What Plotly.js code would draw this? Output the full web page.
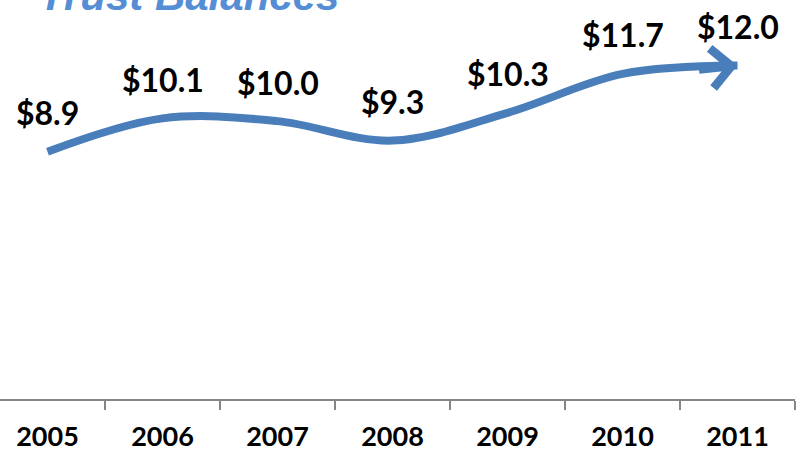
<!DOCTYPE html>
<html>
<head>
<meta charset="utf-8">
<script src="https://cdn.plot.ly/plotly-3.0.1.min.js"></script>
<style>
  html, body { margin: 0; padding: 0; background: #fff; }
  #chart { width: 800px; height: 454px; }
</style>
</head>
<body>
<div id="chart"></div>
<script>
// trust balances, in billions
var years = ['2005', '2006', '2007', '2008', '2009', '2010', '2011'];
var balances = [8.9, 10.1, 10.0, 9.3, 10.3, 11.7, 12.0];
var balanceLabels = ['$8.9', '$10.1', '$10.0', '$9.3', '$10.3', '$11.7', '$12.0'];

var lineColor = '#4a7ebb';
var tickFont = {family: 'Lato, "Open Sans", sans-serif', size: 27, color: '#000', weight: 'bold'};
var labelFont = {family: 'Lato, "Open Sans", sans-serif', size: 32, color: '#000', weight: 'bold'};

var trace = {
    x: years,
    y: balances,
    type: 'scatter',
    mode: 'lines',
    line: {color: lineColor, width: 8, shape: 'spline', smoothing: 1},
    hoverinfo: 'skip'
};

// value labels above each point (category axis -> use the index)
var annotations = years.map(function (yr, i) {
    return {
        x: i, y: balances[i], xref: 'x', yref: 'y',
        text: balanceLabels[i], showarrow: false,
        yanchor: 'middle', yshift: 39,
        font: labelFont
    };
});

// arrow head at the end of the line
var last = years.length - 1;
annotations.push({
    x: last, y: balances[last],
    xref: 'x', yref: 'y', text: '',
    showarrow: true, arrowhead: 4, arrowsize: 0.9, arrowwidth: 8.5,
    arrowcolor: lineColor, ax: -40, ay: 4
});

// title, partly cut off at the top like the source
annotations.push({
    xref: 'paper', yref: 'paper', x: 0.046, y: 0.972,
    xanchor: 'left', yanchor: 'bottom',
    text: '<i><b>Trust Balances</b></i>', showarrow: false,
    font: {family: '"Liberation Sans", Arial, sans-serif', size: 42, color: '#558ed5'}
});

var layout = {
    width: 800,
    height: 454,
    margin: {l: 0, r: 5, t: 10, b: 55},
    paper_bgcolor: '#fff',
    plot_bgcolor: '#fff',
    showlegend: false,
    xaxis: {
        type: 'category',
        range: [-0.413, 6.5],
        tickson: 'boundaries',
        ticks: 'outside',
        ticklen: 9,
        tickwidth: 1.5,
        tickcolor: '#868686',
        showline: true,
        linecolor: '#868686',
        linewidth: 1.5,
        showgrid: false,
        zeroline: false,
        ticklabelstandoff: 13,
        tickfont: tickFont,
        fixedrange: true
    },
    yaxis: {
        range: [0, 14],
        visible: false,
        showgrid: false,
        zeroline: false,
        fixedrange: true
    },
    annotations: annotations
};

Plotly.newPlot('chart', [trace], layout, {displayModeBar: false, staticPlot: true});
</script>
</body>
</html>
